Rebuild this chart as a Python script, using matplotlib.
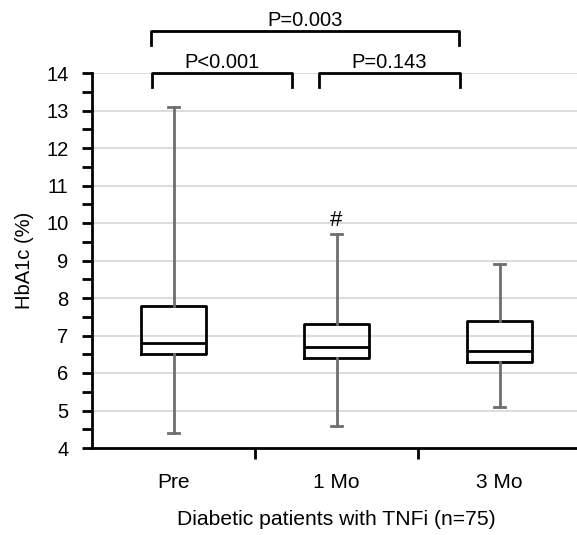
import matplotlib
matplotlib.use("Agg")
import matplotlib.pyplot as plt
from matplotlib.ticker import MultipleLocator, FixedLocator

plt.rcParams['font.family'] = ['Liberation Sans', 'DejaVu Sans']

# box plot summary values
groups = ["Pre", "1 Mo", "3 Mo"]
whislo = [4.4, 4.6, 5.1]
q1 = [6.5, 6.4, 6.3]
med = [6.8, 6.7, 6.6]
q3 = [7.8, 7.3, 7.4]
whishi = [13.1, 9.7, 8.9]

# comparison brackets: (x start, x end, y top, label)
brackets = [(-0.13, 0.73, 14.0, "P<0.001"),
            (0.89, 1.76, 14.0, "P=0.143"),
            (-0.14, 1.75, 15.12, "P=0.003")]

stats = []
for i, g in enumerate(groups):
    stats.append(dict(label=g, whislo=whislo[i], q1=q1[i], med=med[i],
                      q3=q3[i], whishi=whishi[i], fliers=[]))

fig = plt.figure(figsize=(5.77, 5.35), dpi=100)
ax = fig.add_axes([92 / 577, 87 / 535, 489 / 577, 375 / 535])

ax.bxp(stats, positions=range(len(groups)), widths=0.4, showfliers=False,
       boxprops=dict(color="black", linewidth=2),
       medianprops=dict(color="black", linewidth=2),
       whiskerprops=dict(color="#6e6e6e", linewidth=2),
       capprops=dict(color="#6e6e6e", linewidth=2),
       capwidths=0.07, zorder=3)

ax.set_xlim(-0.5, 2.5)
ax.set_ylim(4, 14)
ax.yaxis.set_major_locator(MultipleLocator(1))
ax.yaxis.set_minor_locator(MultipleLocator(0.5))
ax.grid(axis="y", which="major", color="#d9d9d9", linewidth=1.3, zorder=0)

# x ticks at category boundaries, labels centred
ax.xaxis.set_major_locator(FixedLocator([0.5, 1.5]))
ax.xaxis.set_major_formatter(plt.NullFormatter())
ax.set_xticks([0, 1, 2], groups, minor=True)
ax.tick_params(axis="x", which="major", length=8, width=2, direction="out")
ax.tick_params(axis="x", which="minor", length=0, labelsize=15, pad=18)
ax.tick_params(axis="y", which="major", length=7, width=2, labelsize=14.5, pad=10)
ax.tick_params(axis="y", which="minor", length=7, width=2)

for s in ["top", "right"]:
    ax.spines[s].set_visible(False)
ax.spines["left"].set_linewidth(2)
ax.spines["bottom"].set_linewidth(2)

ax.set_ylabel("HbA1c (%)", fontsize=14.5, labelpad=9)
ax.set_xlabel("Diabetic patients with TNFi (n=75)", fontsize=15.2, labelpad=13)

for x0, x1, yt, lab in brackets:
    ax.plot([x0, x0, x1, x1], [yt - 0.38, yt, yt, yt - 0.38], color="black",
            linewidth=2, clip_on=False)
    ax.text((x0 + x1) / 2, yt + 0.03, lab, ha="center", va="bottom",
            fontsize=14.5, clip_on=False)

ax.text(1, 9.8, "#", ha="center", va="bottom", fontsize=16)

fig.savefig("out.png", dpi=100)
